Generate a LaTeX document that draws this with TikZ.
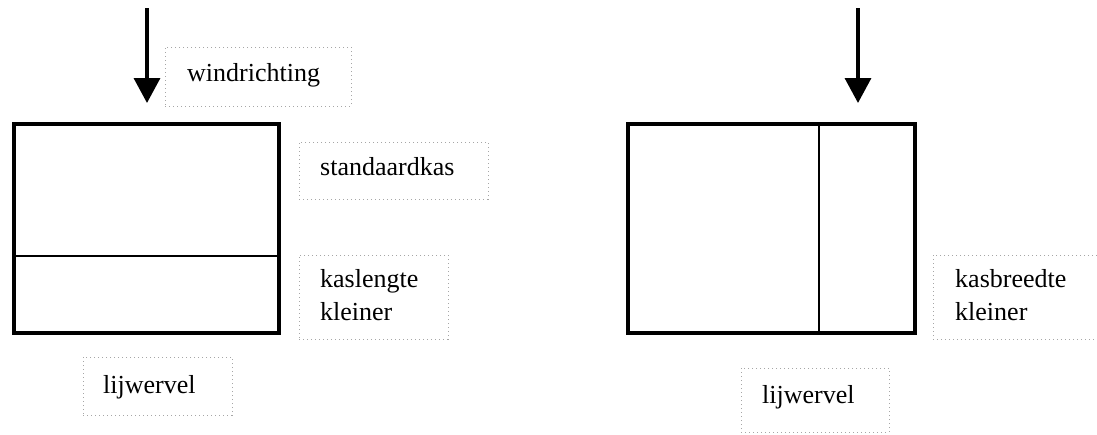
\documentclass[tikz,border=0pt]{standalone}
\usepackage{fontspec}
\setmainfont{Liberation Serif}
\usetikzlibrary{arrows.meta}
\begin{document}
\begin{tikzpicture}[x=1pt,y=-1pt,
  lbltext/.style={anchor=base west,inner sep=0pt,font=\fontsize{26}{32}\selectfont},
  lblbox/.style={draw=gray!70,dash pattern=on 1pt off 3pt,line width=1pt,anchor=north west,inner sep=0pt,outer sep=0pt},
  windarrow/.style={line width=3.5pt,-{Triangle[width=26pt,length=25pt]}},
  kaswall/.style={line width=4pt,line join=miter},
  kasdiv/.style={line width=2pt}]
\useasboundingbox (0,0) rectangle (1097,434);
% left
\coordinate (a1s) at (147,8);
\coordinate (a1e) at (147,103);
\draw[windarrow] (a1s) -- (a1e);
\node[lblbox,minimum width=186pt,minimum height=59pt] (wrbox) at (165,47) {};
\node[lbltext] (wr) at (187,81) {windrichting};
\draw[kaswall] (14,124) rectangle (279,333);
\coordinate (d1a) at (14,256);
\coordinate (d1b) at (279,256);
\draw[kasdiv] (d1a) -- (d1b);
\node[lblbox,minimum width=189pt,minimum height=57pt] (skbox) at (299,142) {};
\node[lbltext] (sk) at (320,175) {standaardkas};
\node[lblbox,minimum width=149pt,minimum height=84pt] (klbox) at (299,255) {};
\node[lbltext] (kl1) at (320,287) {kaslengte};
\node[lbltext] (kl2) at (320,320) {kleiner};
\node[lblbox,minimum width=149pt,minimum height=58pt] (lw1box) at (83,357) {};
\node[lbltext] (lw1) at (103,393) {lijwervel};
% right
\coordinate (a2s) at (858,8);
\coordinate (a2e) at (858,103);
\draw[windarrow] (a2s) -- (a2e);
\draw[kaswall] (628,124) rectangle (915,333);
\coordinate (d2a) at (819,124);
\coordinate (d2b) at (819,333);
\draw[kasdiv] (d2a) -- (d2b);
\node[lblbox,minimum width=180pt,minimum height=84pt] (kbbox) at (933,255) {};
\node[lbltext] (kb1) at (955,287) {kasbreedte};
\node[lbltext] (kb2) at (955,320) {kleiner};
\node[lblbox,minimum width=148pt,minimum height=64pt] (lw2box) at (741,368) {};
\node[lbltext] (lw2) at (762,403) {lijwervel};
\end{tikzpicture}
\end{document}
